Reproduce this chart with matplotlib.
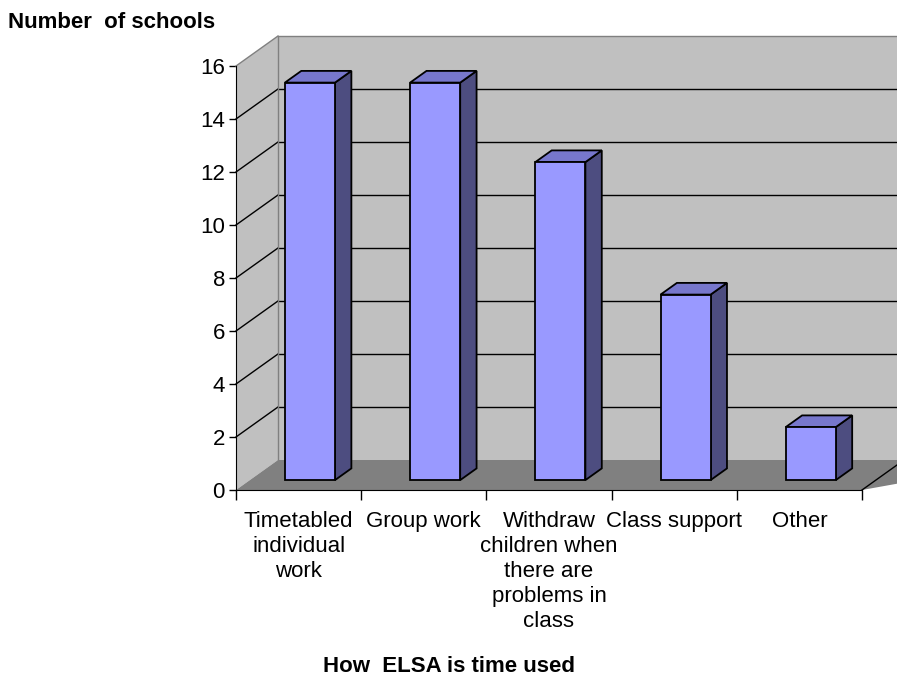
import matplotlib
matplotlib.use("Agg")
import matplotlib.pyplot as plt
import numpy as np

categories = ["Timetabled\nindividual\nwork", "Group work",
              "Withdraw\nchildren when\nthere are\nproblems in\nclass",
              "Class support", "Other"]
values = [15, 15, 12, 7, 2]
yticks = [0, 2, 4, 6, 8, 10, 12, 14, 16]
ylabel = "Number  of schools"
xlabel = "How  ELSA is time used"

plt.rcParams['font.family'] = ['Liberation Sans', 'DejaVu Sans']

W, H = 897, 675
fig = plt.figure(figsize=(W / 100, H / 100), dpi=100)

# pixel geometry
x0_px, y0_px = 236, 490
cat_px = 125.2
unit_px = 26.5
depth_dx_px, depth_dy_px = 42, 30
top_px = 36

xmax = (W - x0_px) / cat_px
ymax = (y0_px - top_px) / unit_px
ax = fig.add_axes([x0_px / W, (H - y0_px) / H, (W - x0_px) / W, (y0_px - top_px) / H])
ax.set_xlim(0, xmax)
ax.set_ylim(0, ymax)

DX = depth_dx_px / cat_px
DY = depth_dy_px / unit_px
n = len(categories)
ymaxv = yticks[-1]

wall = "#C0C0C0"
floor = "#808080"
edge = "#808080"

# back wall
ax.fill([DX, n + DX + 1, n + DX + 1, DX], [DY, DY, ymaxv + DY, ymaxv + DY],
        color=wall, zorder=1, lw=0)
# side wall
ax.fill([0, DX, DX, 0], [0, DY, ymaxv + DY, ymaxv], color=wall, zorder=1, lw=0)
# floor
ax.fill([0, DX, n + DX + 1, n], [0, DY, DY, 0], color=floor, zorder=2, lw=0)
# floor right edge
ax.plot([n, n + DX], [0, DY], color="black", lw=1, zorder=3)

# gridlines
for t in yticks[1:]:
    c = edge if t == ymaxv else "black"
    ax.plot([0, DX], [t, t + DY], color=c, lw=1, zorder=3, clip_on=False)
    ax.plot([DX, xmax], [t + DY, t + DY], color=c, lw=1, zorder=3, clip_on=False)
ax.plot([DX, DX], [DY, ymaxv + DY], color=edge, lw=1, zorder=3)

# bars
d0, d1 = 0.33, 0.72
bw = 0.4
front_c = "#9999FF"
side_c = "#4D4D80"
top_c = "#7777CC"
for i, v in enumerate(values):
    xl = i + 0.48 - bw / 2 + d0 * DX
    xr = xl + bw
    yb = d0 * DY
    yt = v + d0 * DY
    ddx = (d1 - d0) * DX
    ddy = (d1 - d0) * DY
    ax.fill([xr, xr + ddx, xr + ddx, xr], [yb, yb + ddy, yt + ddy, yt],
            facecolor=side_c, edgecolor="black", lw=1.3, zorder=5)
    ax.fill([xl, xr, xr + ddx, xl + ddx], [yt, yt, yt + ddy, yt + ddy],
            facecolor=top_c, edgecolor="black", lw=1.3, zorder=5)
    ax.fill([xl, xr, xr, xl], [yb, yb, yt, yt],
            facecolor=front_c, edgecolor="black", lw=1.3, zorder=6)

# axes styling
for s in ["top", "right"]:
    ax.spines[s].set_visible(False)
ax.spines["left"].set_bounds(0, ymaxv)
ax.spines["bottom"].set_bounds(0, n)
ax.spines["left"].set_zorder(4)
ax.spines["bottom"].set_zorder(4)
ax.set_yticks(yticks)
ax.set_yticklabels([str(t) for t in yticks], fontsize=16)
ax.tick_params(axis="y", direction="out", length=5, width=1, pad=3)
ax.set_xticks(np.arange(n + 1))
ax.set_xticklabels([""] * (n + 1))
ax.tick_params(axis="x", which="major", direction="out", length=7, width=1)
ax.set_xticks(np.arange(n) + 0.5, minor=True)
ax.set_xticklabels(categories, minor=True, fontsize=16, linespacing=1.26,
                   va="top", ha="center")
ax.tick_params(axis="x", which="minor", length=0, pad=15)

fig.text(8 / W, 1 - 22 / H, ylabel, fontsize=16, fontweight="bold",
         ha="left", va="center")
fig.text(449 / W, 1 - 666 / H, xlabel, fontsize=16, fontweight="bold",
         ha="center", va="center")

fig.savefig("out.png", dpi=100)
